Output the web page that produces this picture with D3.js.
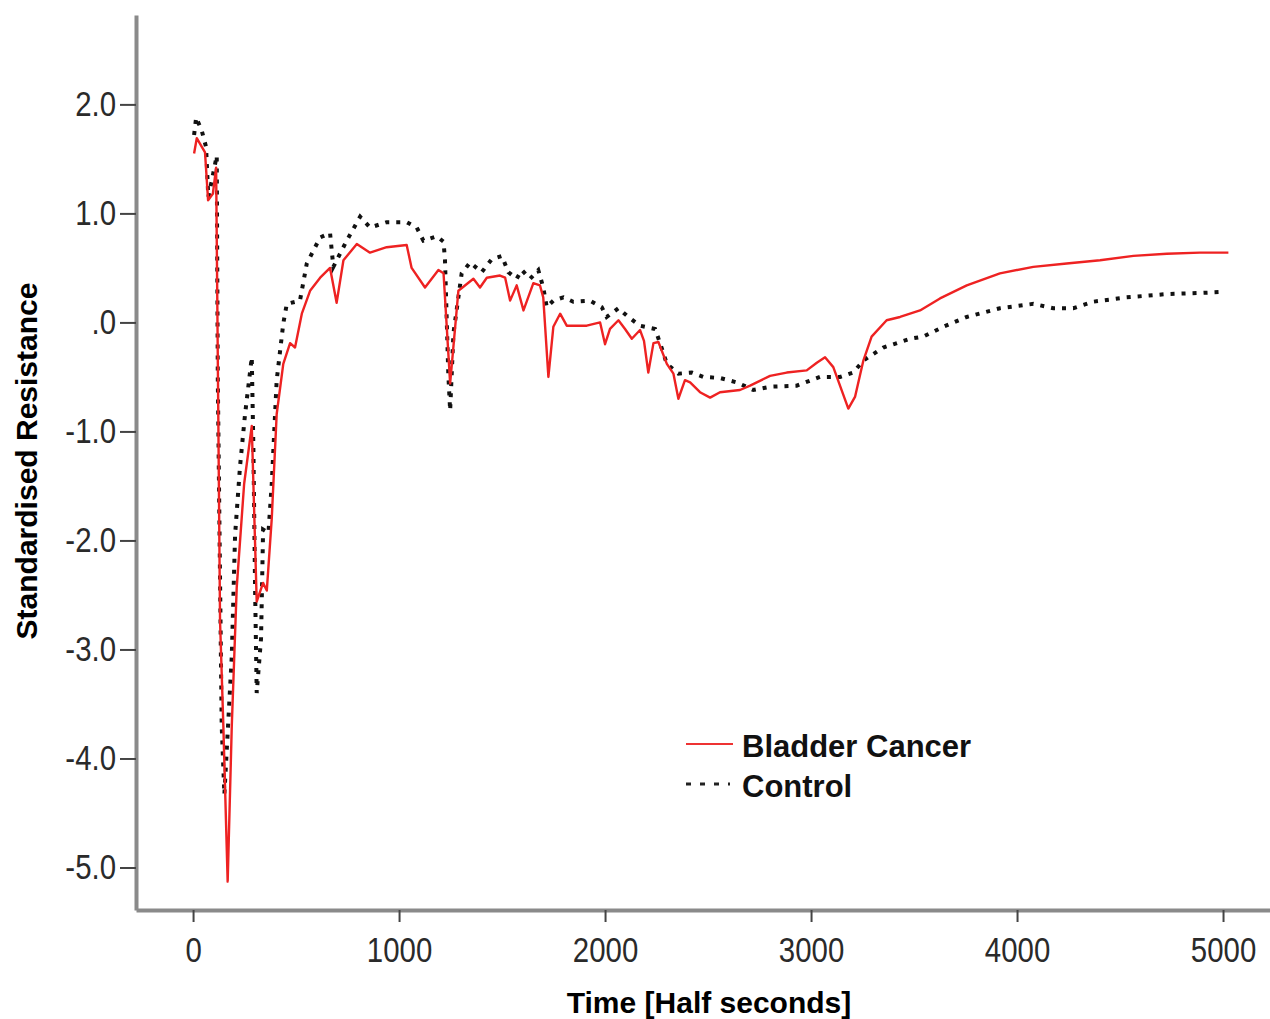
<!DOCTYPE html>
<html>
<head>
<meta charset="utf-8">
<script src="https://cdn.jsdelivr.net/npm/d3@7"></script>
<style>
  body { margin: 0; background: #fff; }
  svg { display: block; }
  .tick text { font-family: "Liberation Sans Narrow", "Arial Narrow", "Liberation Sans", sans-serif; fill: #2a2a2a; }
</style>
</head>
<body>
<div id="chart"></div>
<script>
/**
 * CONSTANTS AND DATA
 * values
 * */
const width = 1270,
  height = 1019;

// Bladder Cancer (red, solid)
const cancerTime = [5, 18, 58, 73, 96, 112, 121, 131, 147, 168, 188, 212, 248, 285, 309, 340, 358, 382, 406, 438,
  471, 495, 528, 568, 617, 665, 697, 730, 795, 859, 940, 1037, 1061, 1126, 1191, 1216, 1248, 1288, 1361, 1393,
  1426, 1490, 1515, 1539, 1571, 1604, 1652, 1684, 1700, 1725, 1749, 1782, 1814, 1911, 1976, 2000, 2024, 2065,
  2097, 2130, 2170, 2189, 2210, 2235, 2259, 2300, 2332, 2356, 2388, 2413, 2461, 2510, 2558, 2655, 2704, 2801,
  2882, 2979, 3028, 3068, 3108, 3181, 3214, 3254, 3294, 3367, 3432, 3529, 3626, 3756, 3917, 4079, 4241, 4403,
  4565, 4727, 4888, 5026];
const cancerValue = [1.55, 1.69, 1.56, 1.12, 1.18, 1.42, -0.53, -2.74, -3.7, -5.13, -3.7, -2.43, -1.48, -0.95, -2.56, -2.39, -2.46, -1.80, -0.84, -0.38,
  -0.19, -0.23, 0.08, 0.29, 0.41, 0.50, 0.18, 0.57, 0.72, 0.64, 0.69, 0.71, 0.50, 0.32, 0.48, 0.45, -0.56, 0.29, 0.40, 0.32,
  0.41, 0.43, 0.41, 0.20, 0.34, 0.11, 0.36, 0.34, 0.23, -0.50, -0.04, 0.08, -0.03, -0.03, 0.0, -0.2, -0.06, 0.02,
  -0.06, -0.15, -0.07, -0.17, -0.46, -0.19, -0.18, -0.38, -0.47, -0.70, -0.53, -0.55, -0.64, -0.69, -0.64, -0.62, -0.58, -0.49,
  -0.46, -0.44, -0.37, -0.32, -0.41, -0.79, -0.68, -0.35, -0.13, 0.02, 0.05, 0.11, 0.22, 0.34, 0.45, 0.51, 0.54, 0.57,
  0.61, 0.63, 0.64, 0.64];

// Control (black, dotted)
const controlTime = [5, 15, 42, 63, 74, 91, 115, 120, 139, 152, 188, 204, 228, 252, 285, 293, 301, 309, 330, 340,
  366, 382, 406, 438, 455, 519, 552, 617, 665, 681, 746, 811, 859, 940, 1037, 1086, 1118, 1183, 1216, 1223,
  1239, 1248, 1264, 1304, 1345, 1401, 1450, 1499, 1531, 1571, 1596, 1636, 1676, 1700, 1717, 1749, 1798, 1846,
  1927, 1984, 2008, 2065, 2113, 2170, 2243, 2267, 2300, 2356, 2421, 2477, 2558, 2639, 2720, 2801, 2930, 3044,
  3141, 3205, 3254, 3351, 3481, 3545, 3642, 3756, 3917, 4079, 4176, 4273, 4370, 4532, 4727, 4888, 5002];
const controlValue = [1.72, 1.88, 1.76, 1.61, 1.15, 1.30, 1.53, -0.5, -3.7, -4.33, -3.06, -1.95, -1.32, -0.85, -0.32, -1.17, -2.43, -3.40, -2.9, -1.9,
  -1.93, -1.48, -0.53, -0.01, 0.17, 0.2, 0.54, 0.78, 0.82, 0.51, 0.75, 0.97, 0.87, 0.92, 0.92, 0.87, 0.75, 0.79, 0.74, 0.57,
  -0.47, -0.81, -0.1, 0.45, 0.55, 0.46, 0.58, 0.61, 0.46, 0.40, 0.48, 0.40, 0.48, 0.32, 0.14, 0.2, 0.23, 0.19,
  0.2, 0.14, 0.05, 0.13, 0.05, -0.03, -0.06, -0.19, -0.38, -0.47, -0.46, -0.50, -0.51, -0.55, -0.62, -0.59, -0.58, -0.50,
  -0.50, -0.46, -0.35, -0.23, -0.15, -0.13, -0.04, 0.05, 0.13, 0.17, 0.13, 0.13, 0.19, 0.23, 0.26, 0.27, 0.28];

const xTicks = [0, 1000, 2000, 3000, 4000, 5000];
const yTicks = [2, 1, 0, -1, -2, -3, -4, -5];
const seriesNames = ["Bladder Cancer", "Control"];

const cancer = cancerTime.map((t, i) => ({ t: t, v: cancerValue[i] }));
const control = controlTime.map((t, i) => ({ t: t, v: controlValue[i] }));

/**
 * SCALES
 * */
const x = d3.scaleLinear().domain([-277, 5228]).range([136, 1270]);
const y = d3.scaleLinear().domain([-5.39, 2.82]).range([910, 15]);

const svg = d3.select("#chart")
  .append("svg")
  .attr("width", width)
  .attr("height", height);

// squeeze tick labels a bit, the original uses a narrow face
function narrow(sel) {
  sel.each(function () {
    const w = this.getComputedTextLength();
    d3.select(this).attr("textLength", w * 0.84).attr("lengthAdjust", "spacingAndGlyphs");
  });
}

// y axis
const fmtY = d => d === 0 ? ".0" : (d < 0 ? "-" : "") + Math.abs(d).toFixed(1);
const yAxis = svg.append("g")
  .attr("transform", "translate(136,0)")
  .call(d3.axisLeft(y).tickValues(yTicks).tickFormat(fmtY).tickSize(16).tickSizeOuter(0).tickPadding(4));
yAxis.selectAll(".tick line").attr("stroke", "#444").attr("stroke-width", 2);
yAxis.selectAll(".tick text").attr("font-size", 35).call(narrow);
yAxis.select(".domain").attr("stroke", "#8a8a8a").attr("stroke-width", 4);

// x axis
const xAxis = svg.append("g")
  .attr("transform", "translate(0,910)")
  .call(d3.axisBottom(x).tickValues(xTicks).tickFormat(d3.format("d")).tickSize(12).tickSizeOuter(0).tickPadding(15));
xAxis.selectAll(".tick line").attr("stroke", "#444").attr("stroke-width", 2);
xAxis.selectAll(".tick text").attr("font-size", 35).call(narrow);
xAxis.select(".domain").attr("stroke", "#8a8a8a").attr("stroke-width", 4);

// lines
const line = d3.line().x(d => x(d.t)).y(d => y(d.v));

svg.append("path")
  .datum(control)
  .attr("d", line)
  .attr("fill", "none")
  .attr("stroke", "#111")
  .attr("stroke-width", 4)
  .attr("stroke-dasharray", "4,7");

svg.append("path")
  .datum(cancer)
  .attr("d", line)
  .attr("fill", "none")
  .attr("stroke", "#ee2222")
  .attr("stroke-width", 2.4)
  .attr("stroke-linejoin", "round");

// axis titles
svg.append("text")
  .attr("x", 709)
  .attr("y", 1013)
  .attr("text-anchor", "middle")
  .attr("font-family", "Liberation Sans, Arial, sans-serif")
  .attr("font-weight", "bold")
  .attr("font-size", 30)
  .text("Time [Half seconds]");

svg.append("text")
  .attr("transform", "translate(37,461) rotate(-90)")
  .attr("text-anchor", "middle")
  .attr("font-family", "Liberation Sans, Arial, sans-serif")
  .attr("font-weight", "bold")
  .attr("font-size", 30)
  .text("Standardised Resistance");

// legend
const legend = svg.append("g").attr("transform", "translate(686,744)");
legend.append("line")
  .attr("x1", 0).attr("x2", 47).attr("y1", 0).attr("y2", 0)
  .attr("stroke", "#ee3333").attr("stroke-width", 2);
legend.append("line")
  .attr("x1", 0).attr("x2", 44).attr("y1", 40).attr("y2", 40)
  .attr("stroke", "#222").attr("stroke-width", 3).attr("stroke-dasharray", "5,9");
legend.selectAll("text.lab")
  .data(seriesNames)
  .join("text")
  .attr("class", "lab")
  .attr("x", 56)
  .attr("y", (d, i) => 13 + i * 40)
  .attr("font-family", "Liberation Sans, Arial, sans-serif")
  .attr("font-weight", "bold")
  .attr("font-size", 31)
  .attr("fill", "#111")
  .text(d => d);
</script>
</body>
</html>
